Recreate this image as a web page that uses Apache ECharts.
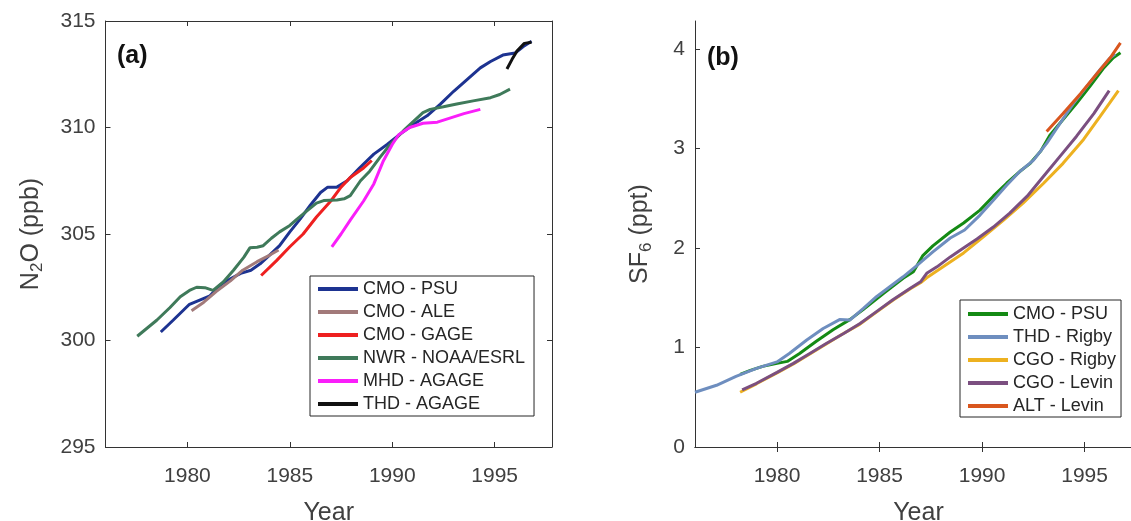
<!DOCTYPE html>
<html>
<head>
<meta charset="utf-8">
<title>N2O and SF6</title>
<script src="https://cdn.jsdelivr.net/npm/echarts@6/dist/echarts.min.js"></script>
<style>
  html, body { margin: 0; padding: 0; background: #fff; }
  #chart { width: 1131px; height: 521px; }
</style>
</head>
<body>
<div id="chart"></div>
<script>
// tick labels
var yearTicks = [1980, 1985, 1990, 1995];
var n2oTicks = [295, 300, 305, 310, 315];
var sf6Ticks = [0, 1, 2, 3, 4];

// panel (a) N2O (ppb), [year, value]
var cmoPsuN2O = [[1978.7,300.4],[1979.3,300.95],[1980.1,301.7],[1980.6,301.9],[1981.1,302.1],[1981.6,302.6],[1982.1,302.9],[1982.6,303.15],[1983.1,303.3],[1983.55,303.6],[1984.0,304.0],[1984.5,304.45],[1985.0,305.1],[1985.5,305.7],[1986.0,306.35],[1986.5,306.95],[1986.85,307.2],[1987.3,307.2],[1987.8,307.5],[1988.4,308.1],[1989.1,308.75],[1989.75,309.2],[1990.4,309.7],[1991.05,310.15],[1991.7,310.55],[1992.35,311.1],[1993.0,311.7],[1993.65,312.25],[1994.3,312.8],[1994.8,313.1],[1995.4,313.4],[1996.0,313.5],[1996.4,313.8],[1996.8,314.05]];
var cmoAle = [[1980.2,301.4],[1980.8,301.8],[1981.4,302.3],[1982.1,302.8],[1982.7,303.3],[1983.4,303.7],[1984.0,304.0],[1984.45,304.25]];
var cmoGage = [[1983.6,303.05],[1984.35,303.75],[1985.0,304.4],[1985.65,305.0],[1986.3,305.8],[1987.0,306.55],[1987.5,307.2],[1987.95,307.65],[1988.6,308.1],[1989.0,308.45]];
var nwrNoaa = [[1977.55,300.2],[1978.5,300.95],[1979.15,301.55],[1979.65,302.05],[1980.1,302.35],[1980.45,302.5],[1980.85,302.48],[1981.25,302.35],[1981.75,302.75],[1982.25,303.3],[1982.75,303.9],[1983.05,304.35],[1983.4,304.38],[1983.7,304.45],[1984.1,304.8],[1984.5,305.1],[1985.0,305.4],[1985.35,305.7],[1985.85,306.1],[1986.3,306.45],[1986.65,306.57],[1987.3,306.6],[1987.65,306.65],[1987.95,306.8],[1988.45,307.5],[1988.9,307.95],[1989.4,308.6],[1989.9,309.2],[1990.55,309.85],[1991.05,310.3],[1991.5,310.7],[1991.85,310.85],[1992.5,310.97],[1993.15,311.1],[1993.95,311.25],[1994.8,311.4],[1995.25,311.55],[1995.75,311.8]];
var mhdAgage = [[1987.05,304.4],[1987.5,305.0],[1987.95,305.65],[1988.6,306.55],[1989.1,307.35],[1989.55,308.4],[1990.0,309.2],[1990.3,309.65],[1990.85,310.0],[1991.5,310.2],[1992.2,310.25],[1992.85,310.45],[1993.5,310.65],[1994.3,310.85]];
var thdAgage = [[1995.6,312.75],[1995.85,313.2],[1996.1,313.6],[1996.45,313.95],[1996.8,314.0]];

// panel (b) SF6 (ppt), [year, value]
var cmoPsuSF6 = [[1978.2,0.73],[1978.7,0.77],[1979.3,0.81],[1980.0,0.84],[1980.5,0.86],[1981.1,0.94],[1981.9,1.06],[1982.75,1.18],[1983.55,1.28],[1984.2,1.38],[1985.2,1.545],[1986.15,1.695],[1986.65,1.76],[1987.1,1.92],[1987.6,2.02],[1988.45,2.16],[1989.1,2.25],[1989.9,2.38],[1990.55,2.52],[1991.2,2.65],[1991.85,2.77],[1992.35,2.85],[1992.85,2.97],[1993.3,3.13],[1993.95,3.29],[1994.6,3.45],[1995.25,3.62],[1995.9,3.8],[1996.4,3.91],[1996.75,3.96]];
var thdRigby = [[1976.0,0.55],[1977.05,0.62],[1978.0,0.71],[1979.0,0.79],[1980.0,0.855],[1980.6,0.94],[1981.45,1.075],[1982.25,1.19],[1983.05,1.28],[1983.55,1.275],[1984.2,1.39],[1984.85,1.51],[1985.5,1.61],[1986.15,1.71],[1986.8,1.82],[1987.6,1.96],[1988.45,2.1],[1989.15,2.18],[1989.9,2.33],[1990.55,2.48],[1991.2,2.63],[1991.85,2.77],[1992.5,2.88],[1993.15,3.05],[1993.8,3.25],[1994.45,3.45],[1995.1,3.62],[1995.75,3.79],[1996.25,3.91],[1996.5,3.95]];
var cgoRigby = [[1978.2,0.55],[1979.0,0.635],[1980.0,0.745],[1980.8,0.835],[1981.6,0.935],[1982.4,1.035],[1983.2,1.135],[1984.05,1.235],[1984.85,1.355],[1985.65,1.475],[1986.5,1.59],[1987.0,1.65],[1987.3,1.7],[1988.1,1.81],[1989.1,1.95],[1990.05,2.11],[1991.05,2.28],[1992.0,2.45],[1993.0,2.65],[1993.95,2.85],[1994.95,3.09],[1995.75,3.32],[1996.65,3.58]];
var cgoLevin = [[1978.3,0.575],[1979.0,0.64],[1980.0,0.75],[1980.8,0.84],[1981.6,0.94],[1982.4,1.04],[1983.25,1.14],[1984.05,1.24],[1984.85,1.36],[1985.65,1.48],[1986.5,1.595],[1987.0,1.66],[1987.3,1.745],[1987.8,1.81],[1988.45,1.91],[1988.95,1.98],[1989.75,2.09],[1990.55,2.21],[1991.35,2.35],[1992.2,2.52],[1993.0,2.72],[1993.8,2.92],[1994.6,3.12],[1995.45,3.35],[1996.2,3.58]];
var altLevin = [[1993.15,3.17],[1993.95,3.35],[1994.8,3.55],[1995.6,3.75],[1996.25,3.91],[1996.75,4.06]];

var namesA = ['CMO - PSU', 'CMO - ALE', 'CMO - GAGE', 'NWR - NOAA/ESRL', 'MHD - AGAGE', 'THD - AGAGE'];
// trailing space keeps the two "CMO - PSU" legend entries apart
var namesB = ['CMO - PSU ', 'THD - Rigby', 'CGO - Rigby', 'CGO - Levin', 'ALT - Levin'];

var font = 'Liberation Sans, Arial, sans-serif';
var axisColor = '#333';

function line(name, data, color, axis) {
  return {
    name: name, type: 'line', data: data,
    xAxisIndex: axis, yAxisIndex: axis,
    symbol: 'none', clip: true,
    lineStyle: { color: color, width: 3 },
    itemStyle: { color: color }
  };
}

function xAx(grid, main) {
  return {
    type: 'value', gridIndex: grid, position: main ? 'bottom' : 'top',
    min: 1976, max: 1997.8,
    splitLine: { show: false },
    axisLine: { lineStyle: { color: axisColor, width: 1 } },
    axisTick: { inside: true, length: 5, customValues: yearTicks, lineStyle: { color: axisColor } },
    axisLabel: main ? {
      customValues: yearTicks, fontSize: 21, color: '#404040', fontFamily: font, margin: 19,
      formatter: function (v) { return String(v); }
    } : { show: false },
    name: main ? 'Year' : '', nameLocation: 'middle', nameGap: 54,
    nameTextStyle: { fontSize: 25, color: '#404040', fontFamily: font }
  };
}

function yAx(grid, main, lo, hi, ticks, nameRich, gap, hidden) {
  return {
    type: 'value', gridIndex: grid, position: main ? 'left' : 'right',
    min: lo, max: hi, show: !hidden,
    splitLine: { show: false },
    axisLine: { show: true, lineStyle: { color: axisColor, width: 1 } },
    axisTick: { show: true, inside: true, length: 5, customValues: ticks, lineStyle: { color: axisColor } },
    axisLabel: main ? {
      customValues: ticks, fontSize: 21, color: '#404040', fontFamily: font, margin: 10,
      formatter: function (v) { return String(v); }
    } : { show: false },
    name: main ? nameRich : '', nameLocation: 'middle', nameRotate: 90, nameGap: gap,
    nameTextStyle: {
      rich: {
        n: { fontSize: 25, color: '#404040', fontFamily: font },
        s: { fontSize: 17, color: '#404040', fontFamily: font, padding: [12, 0, 0, 0] }
      }
    }
  };
}

function legendAt(left, top, names, pad) {
  return {
    data: names, orient: 'vertical', left: left, top: top,
    itemWidth: 40, itemHeight: 20, itemGap: 5, padding: pad,
    borderColor: '#262626', borderWidth: 1, backgroundColor: '#fff',
    itemStyle: { opacity: 0, borderWidth: 0 },
    lineStyle: { width: 4 },
    textStyle: { fontSize: 18, color: '#262626', fontFamily: font },
    formatter: function (n) { return n.trim(); }
  };
}

var chart = echarts.init(document.getElementById('chart'), null, { renderer: 'canvas' });
chart.setOption({
  animation: false,
  backgroundColor: '#fff',
  grid: [
    { left: 105.5, top: 21, width: 446.5, height: 426, outerBoundsMode: 'none', containLabel: false },
    { left: 695, top: 21, width: 447, height: 426, outerBoundsMode: 'none', containLabel: false }
  ],
  xAxis: [xAx(0, true), xAx(0, false), xAx(1, true), xAx(1, false)],
  yAxis: [
    yAx(0, true, 295, 315, n2oTicks, '{n|N}{s|2}{n|O (ppb)}', 60, false),
    yAx(0, false, 295, 315, n2oTicks, '', 0, false),
    yAx(1, true, 0, 4.28, sf6Ticks, '{n|SF}{s|6}{n| (ppt)}', 40, false),
    // the right border of panel (b) lies past the picture edge
    yAx(1, false, 0, 4.28, sf6Ticks, '', 0, true)
  ],
  legend: [
    legendAt(310, 276, namesA, [4, 9, 3, 6]),
    legendAt(960, 300, namesB, [5, 5, 2, 6])
  ],
  graphic: [
    { type: 'text', left: 117, top: 44, style: { text: '(a)', font: 'bold 25px ' + font, fill: '#111' } },
    { type: 'text', left: 707, top: 46, style: { text: '(b)', font: 'bold 25px ' + font, fill: '#111' } }
  ],
  series: [
    line(namesA[0], cmoPsuN2O, '#1d3391', 0),
    line(namesA[1], cmoAle, '#a27a7a', 0),
    line(namesA[2], cmoGage, '#ee2020', 0),
    line(namesA[3], nwrNoaa, '#3f7a5a', 0),
    line(namesA[4], mhdAgage, '#fa1efa', 0),
    line(namesA[5], thdAgage, '#111111', 0),
    line(namesB[0], cmoPsuSF6, '#148a14', 2),
    line(namesB[1], thdRigby, '#6e8ebf', 2),
    line(namesB[2], cgoRigby, '#edb120', 2),
    line(namesB[3], cgoLevin, '#7b4f80', 2),
    line(namesB[4], altLevin, '#d9561e', 2)
  ]
});
</script>
</body>
</html>
